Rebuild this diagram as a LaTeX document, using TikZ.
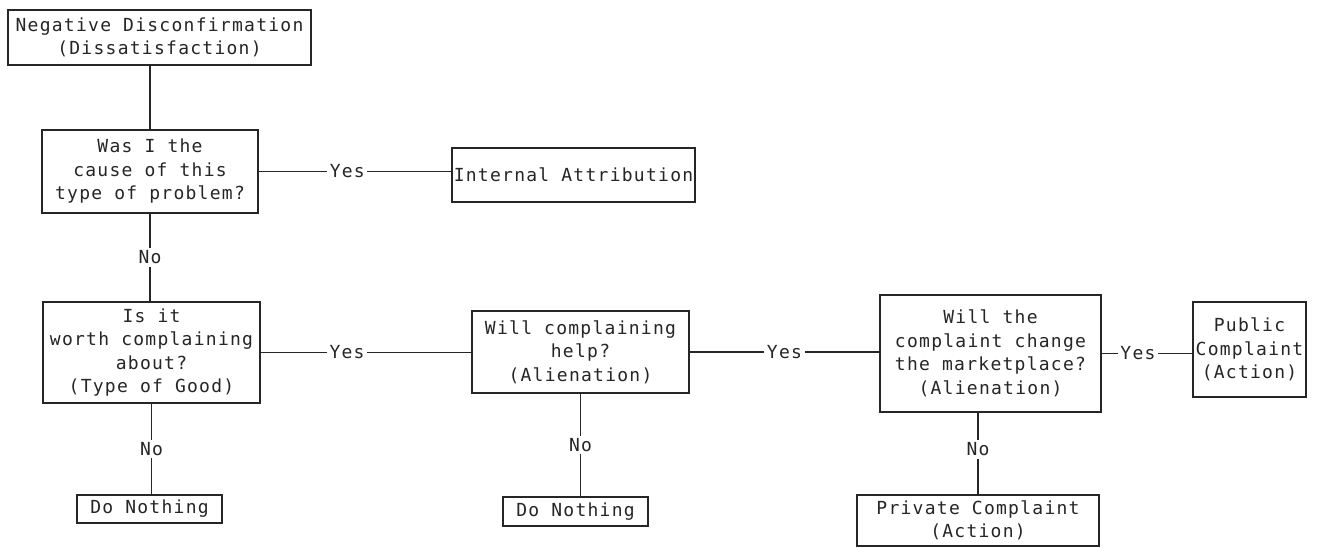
\documentclass[tikz,border=0pt]{standalone}
\usepackage{fontspec}
\newfontfamily\twfont[LetterSpace=7]{DejaVu Sans Mono}
\begin{document}
\begin{tikzpicture}[x=1pt,y=-1pt,
  ink/.style={black!85},
  txt/.style={font=\twfont\fontsize{18}{23.5}\selectfont, text=black!85},
  boxnode/.style={txt, draw=black!85, line width=1.5pt, align=center, inner sep=0pt},
  conn/.style={draw=black!85, line width=1.5pt},
  lbl/.style={txt, fill=white, inner sep=2.5pt}]
\useasboundingbox (0,0) rectangle (1317,547);
\fill[white] (0,0) rectangle (1317,547);

\node[boxnode, minimum width=303pt, minimum height=55pt] (b1) at (159.5,37.5)
  {Negative Disconfirmation\\(Dissatisfaction)};
\node[boxnode, minimum width=216pt, minimum height=83pt] (b2) at (150,171.5)
  {Was I the\\cause of this\\type of problem?};
\node[boxnode, minimum width=243pt, minimum height=54pt] (ia) at (573.5,175)
  {Internal Attribution};
\node[boxnode, minimum width=217pt, minimum height=101pt] (b3) at (151.5,352.5)
  {Is it\\worth complaining\\about?\\(Type of Good)};
\node[boxnode, minimum width=145pt, minimum height=28pt] (dn1) at (149.5,509)
  {Do Nothing};
\node[boxnode, minimum width=217pt, minimum height=82pt] (b4) at (580.5,352)
  {Will complaining\\help?\\(Alienation)};
\node[boxnode, minimum width=145pt, minimum height=29pt] (dn2) at (575.5,511.5)
  {Do Nothing};
\node[boxnode, minimum width=221pt, minimum height=117pt] (b5) at (990.5,353.5)
  {Will the\\complaint change\\the marketplace?\\(Alienation)};
\node[boxnode, minimum width=113pt, minimum height=95pt] (pub) at (1249.5,349.5)
  {Public\\Complaint\\(Action)};
\node[boxnode, minimum width=242pt, minimum height=51pt] (priv) at (978,520.5)
  {Private Complaint\\(Action)};

% connectors
\draw[conn] (b2.north) -- (b2.north |- b1.south);
\draw[conn] (b2.east) -- node[lbl, pos=0.46] {Yes} (b2.east -| ia.west);
\draw[conn] (b2.south) -- node[lbl, pos=0.5] {No} (b2.south |- b3.north);
\draw[conn] (b3.east) -- node[lbl, pos=0.41] {Yes} (b3.east -| b4.west);
\draw[conn] (dn1.north -| b3.south) -- node[lbl, pos=0.5] {No} (b3.south);
\draw[conn] (b4.east) -- node[lbl, pos=0.5] {Yes} (b4.east -| b5.west);
\draw[conn] (b4.south) -- node[lbl, pos=0.5] {No} (b4.south |- dn2.north);
\draw[conn] (b5.east) -- node[lbl, pos=0.4] {Yes} (b5.east -| pub.west);
\draw[conn] (priv.north |- b5.south) -- node[lbl, pos=0.45] {No} (priv.north);
\end{tikzpicture}
\end{document}
